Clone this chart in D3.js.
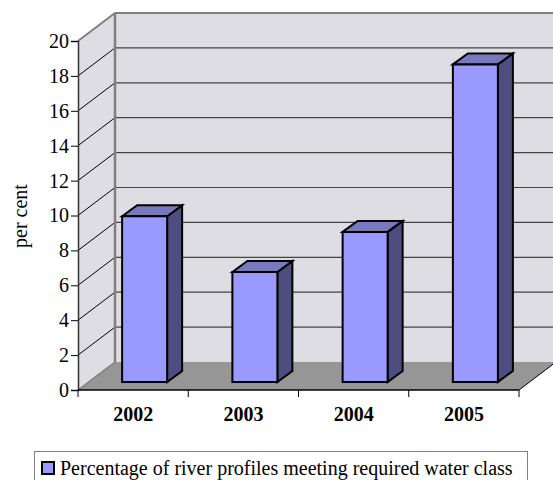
<!doctype html>
<html lang="en">
<head>
  <meta charset="utf-8">
  <title>River profiles</title>
  <style>
  html, body { margin: 0; padding: 0; background: #fff; }
  svg { display: block; }
  text { font-family: "Liberation Serif", "Times New Roman", serif; fill: #000; }
  </style>
</head>
<body>
  <div id="chart"></div>
  <script src="https://d3js.org/d3.v7.min.js"></script>
  <script>
    var years = ['2002', '2003', '2004', '2005'];
    var values = [9.5, 6.3, 8.6, 18.2];
    var yTicks = [0, 2, 4, 6, 8, 10, 12, 14, 16, 18, 20];
    var seriesName = 'Percentage of river profiles meeting required water class';

    var width = 553, height = 480;
    var x0 = 78, x1 = 519, y0 = 390, y1 = 41;
    var depthX = 37, depthY = -28;   // wall offset from the front plane

    var svg = d3.select('#chart').append('svg')
        .attr('width', width)
        .attr('height', height);

    var x = d3.scaleBand().domain(years).range([x0, x1]);
    var y = d3.scaleLinear().domain([0, 20]).range([y0, y1]);

    var poly = function(pts, fill, stroke, sw) {
      return svg.append('polygon')
        .attr('points', pts.map(function(p) { return p.join(','); }).join(' '))
        .attr('fill', fill)
        .attr('stroke', stroke || 'none')
        .attr('stroke-width', sw || 0)
        .attr('stroke-linejoin', 'miter');
    };

    // back wall, side wall, floor
    var wallGrey = '#dddde3', edge = '#808080';
    poly([[x0 + depthX, y1 + depthY], [x1 + depthX, y1 + depthY], [x1 + depthX, y0 + depthY], [x0 + depthX, y0 + depthY]], wallGrey);
    poly([[x0, y1], [x0 + depthX, y1 + depthY], [x0 + depthX, y0 + depthY], [x0, y0]], wallGrey);
    poly([[x0, y0], [x0 + depthX, y0 + depthY], [x1 + depthX, y0 + depthY], [x1, y0]], '#969696');

    // gridlines
    yTicks.slice(1, -1).forEach(function(t) {
      svg.append('line')
        .attr('x1', x0).attr('y1', y(t))
        .attr('x2', x0 + depthX).attr('y2', y(t) + depthY)
        .attr('stroke', '#000').attr('stroke-width', 1);
      svg.append('line')
        .attr('x1', x0 + depthX).attr('y1', y(t) + depthY)
        .attr('x2', x1 + depthX).attr('y2', y(t) + depthY)
        .attr('stroke', '#444').attr('stroke-width', 1.2);
    });

    // grey wall edges
    svg.append('path')
      .attr('d', 'M' + x0 + ',' + y1 + 'L' + (x0 + depthX) + ',' + (y1 + depthY) + 'L' + (x1 + depthX) + ',' + (y1 + depthY))
      .attr('fill', 'none').attr('stroke', edge).attr('stroke-width', 2);
    svg.append('line')
      .attr('x1', x0 + depthX).attr('y1', y1 + depthY)
      .attr('x2', x0 + depthX).attr('y2', y0 + depthY)
      .attr('stroke', edge).attr('stroke-width', 2.5);
    svg.append('line')
      .attr('x1', x0).attr('y1', y0)
      .attr('x2', x0 + depthX).attr('y2', y0 + depthY)
      .attr('stroke', edge).attr('stroke-width', 1.5);
    svg.append('line')
      .attr('x1', x1).attr('y1', y0)
      .attr('x2', x1 + depthX).attr('y2', y0 + depthY)
      .attr('stroke', '#000').attr('stroke-width', 1);

    // bars
    var barW = 45, barDX = 15, barDY = -11, barOffX = 11.5, barOffY = -8;
    years.forEach(function(yr, i) {
      var left = x(yr) + (x.bandwidth() - barW) / 2 + barOffX;
      var right = left + barW;
      var bottom = y(0) + barOffY;
      var top = y(values[i]) + barOffY;
      poly([[right, top], [right + barDX, top + barDY], [right + barDX, bottom + barDY], [right, bottom]], '#4d4d80', '#000', 2);
      poly([[left, top], [left + barDX, top + barDY], [right + barDX, top + barDY], [right, top]], '#7878bd', '#000', 2);
      poly([[left, top], [right, top], [right, bottom], [left, bottom]], '#9999ff', '#000', 2);
    });

    // axes
    var yAxis = d3.axisLeft(y).tickValues(yTicks).tickSize(7).tickPadding(2);
    var gy = svg.append('g').attr('transform', 'translate(' + x0 + ',0)').call(yAxis);
    gy.select('.domain').attr('stroke', '#333').attr('stroke-width', 1.5);
    gy.selectAll('text').attr('font-size', 20);

    var xAxis = d3.axisBottom(x).tickSize(0).tickPadding(17);
    var gx = svg.append('g').attr('transform', 'translate(0,' + y0 + ')').call(xAxis);
    gx.select('.domain').remove();
    gx.selectAll('.tick line').remove();
    gx.selectAll('text').attr('font-size', 20).attr('font-weight', 'bold');
    x.domain().concat(['end']).forEach(function(d, i) {
      var px = x0 + i * x.step();
      gx.append('line').attr('x1', px).attr('x2', px).attr('y1', 0).attr('y2', 7).attr('stroke', '#000');
    });
    gx.append('line').attr('x1', x0).attr('x2', x1).attr('y1', 0).attr('y2', 0).attr('stroke', '#000').attr('stroke-width', 1.5);

    // y title
    svg.append('text')
      .attr('transform', 'translate(27,216) rotate(-90)')
      .attr('text-anchor', 'middle')
      .attr('font-size', 20)
      .text('per cent');

    // legend
    svg.append('rect')
      .attr('x', 34.5).attr('y', 451.5).attr('width', 493).attr('height', 40)
      .attr('fill', '#fff').attr('stroke', '#808080').attr('stroke-width', 1);
    svg.append('rect')
      .attr('x', 42).attr('y', 462).attr('width', 12).attr('height', 12)
      .attr('fill', '#9999ff').attr('stroke', '#000').attr('stroke-width', 2);
    svg.append('text')
      .attr('x', 60).attr('y', 475)
      .attr('font-size', 20)
      .text(seriesName);
  </script>
</body>
</html>
